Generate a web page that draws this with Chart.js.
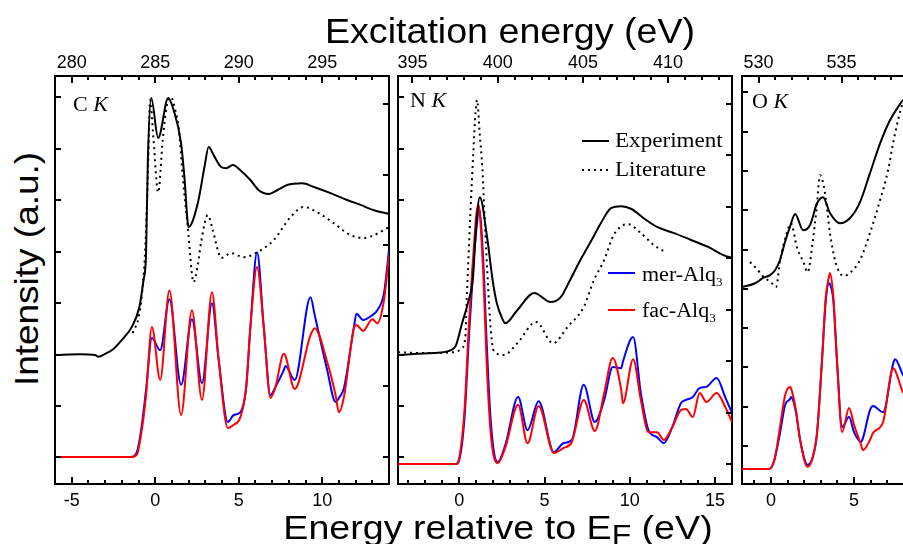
<!DOCTYPE html>
<html>
<head>
<meta charset="utf-8">
<script src="https://cdn.jsdelivr.net/npm/chart.js@4.4.1/dist/chart.umd.min.js"></script>
<style>
  html, body { margin: 0; padding: 0; width: 903px; height: 544px; overflow: hidden; background: #fff; }
  .panel { position: absolute; }
  .txt { position: absolute; white-space: nowrap; color: #000; line-height: 1;
         font-family: "Liberation Sans", Arial, sans-serif; }
  .serif { font-family: "Liberation Serif", "Times New Roman", serif; transform-origin: left center; transform: scaleX(1.1); }
  .serif sub { font-size: 12px; vertical-align: -5px; line-height: 0; }
  .sub { font-size: 28px; vertical-align: -5px; }
</style>
</head>
<body>

<canvas id="c1" class="panel"></canvas>
<canvas id="c2" class="panel"></canvas>
<canvas id="c3" class="panel"></canvas>

<div class="txt" style="left:510px; top:13px; font-size:35px; transform:translateX(-50%) scaleX(1.075);">Excitation energy (eV)</div>
<div class="txt" style="left:498px; top:511px; font-size:33px; transform:translateX(-50%) scaleX(1.14);">Energy relative to E<span class="sub">F</span> (eV)</div>
<div class="txt" style="left:26px; top:269px; font-size:33px; transform:translate(-50%, -50%) rotate(-90deg) scaleX(1.12);">Intensity (a.u.)</div>

<div class="txt serif" style="left:73px; top:94px; font-size:20px;">C <i>K</i></div>
<div class="txt serif" style="left:410px; top:90px; font-size:20px;">N <i>K</i></div>
<div class="txt serif" style="left:752px; top:91px; font-size:20px;">O <i>K</i></div>

<svg style="position:absolute; left:0; top:0;" width="903" height="544">
  <line x1="582" y1="141" x2="609" y2="141" stroke="#000" stroke-width="2"/>
  <line x1="582" y1="170" x2="609" y2="170" stroke="#000" stroke-width="2" stroke-dasharray="2 4"/>
  <line x1="608" y1="273" x2="635" y2="273" stroke="#0000ff" stroke-width="2"/>
  <line x1="608" y1="310" x2="635" y2="310" stroke="#ff0000" stroke-width="2"/>
</svg>
<div class="txt serif" style="left:615px; top:130px; font-size:21px;">Experiment</div>
<div class="txt serif" style="left:615px; top:159px; font-size:21px;">Literature</div>
<div class="txt serif" style="left:642px; top:264px; font-size:20px;">mer-Alq<sub>3</sub></div>
<div class="txt serif" style="left:642px; top:300px; font-size:20px;">fac-Alq<sub>3</sub></div>

<script>
// C K edge: energies (eV, relative to E_F) and intensities (a.u.)
const cExpE = [-6, -4.5, -3.6, -3.4, -3.0, -2.5, -2.0, -1.4, -0.95, -0.7, -0.55, -0.44, -0.24, 0.18, 0.78, 1.1, 1.55, 1.75, 2.0, 2.55, 2.95, 3.2, 3.5, 3.95, 4.25, 4.65, 5.1, 5.7, 6.2, 6.8, 7.3, 7.9, 8.8, 9.5, 10.5, 11.5, 12.3, 13.1, 14.0];
const cExp  = [31.6, 31.8, 31.6, 31.2, 31.9, 33.1, 35.3, 38.5, 43.4, 50.0, 56.1, 79.4, 94.6, 84.8, 94.6, 91.7, 83.5, 75.2, 63.0, 68.8, 77.7, 82.6, 80.6, 77.7, 77.4, 78.2, 76.9, 74.5, 72.0, 71.1, 72.0, 73.3, 73.7, 72.8, 71.3, 69.6, 68.4, 67.1, 66.2];
const cLitE = [-1.35, -1.0, -0.8, -0.6, -0.45, -0.3, -0.1, 0.18, 0.45, 0.7, 0.95, 1.2, 1.4, 1.65, 1.95, 2.3, 2.55, 2.75, 3.15, 3.45, 3.8, 3.95, 4.55, 5.3, 6.1, 7.1, 8.1, 8.9, 9.7, 10.7, 11.7, 12.5, 13.1, 14.0];
const cLit  = [37.0, 40.7, 46.3, 57.3, 74.5, 94.1, 84.3, 71.5, 84.3, 92.9, 94.8, 91.7, 87.5, 75.2, 63.0, 49.5, 53.7, 59.3, 65.9, 62.2, 56.6, 55.4, 56.6, 55.6, 56.8, 59.8, 65.4, 67.9, 66.6, 63.9, 61.0, 60.3, 61.0, 63.0];
const cCalcE = [-6, -1.45, -1.1, -0.85, -0.55, -0.2, 0.3, 0.85, 1.55, 2.2, 2.8, 3.4, 3.8, 4.35, 4.7, 5.1, 5.45, 5.7, 6.1, 6.5, 6.9, 7.2, 7.7, 7.8, 8.35, 9.3, 9.55, 10.3, 10.8, 11.0, 11.3, 11.9, 12.05, 12.45, 13.0, 13.3, 13.7, 14.0];
const cMer = [6.6, 6.6, 7.8, 13.0, 23.0, 35.8, 32.8, 45.3, 24.3, 40.4, 24.7, 44.3, 30.4, 15.2, 16.9, 17.6, 23.8, 38.5, 56.8, 38.5, 21.8, 23.8, 27.9, 28.9, 25.5, 45.8, 41.4, 27.9, 20.1, 21.1, 23.5, 38.5, 41.7, 40.2, 41.4, 42.6, 46.8, 57.3];
const cFac = [6.6, 6.6, 7.2, 12.0, 21.6, 38.5, 25.5, 47.5, 16.9, 42.6, 20.6, 47.0, 30.4, 13.7, 14.5, 16.4, 23.8, 38.5, 53.2, 38.5, 21.1, 23.8, 31.9, 31.4, 23.3, 36.5, 38.2, 29.9, 21.8, 17.6, 21.3, 38.2, 39.0, 37.5, 40.4, 39.4, 45.1, 56.1];

// N K edge
const nExpE = [-3.6, -2.5, -1.5, -0.5, -0.2, 0.16, 0.5, 0.8, 0.95, 1.2, 1.65, 1.95, 2.2, 2.5, 2.7, 3.4, 4.4, 5.35, 5.95, 6.5, 7.1, 7.7, 8.3, 8.9, 9.5, 10.1, 10.8, 11.6, 12.6, 13.6, 14.6, 15.5, 16.0];
const nExp  = [31.6, 31.9, 32.1, 32.8, 34.0, 39.4, 44.3, 50.7, 61.0, 70.3, 59.8, 50.0, 44.3, 40.7, 39.4, 42.6, 46.8, 44.6, 45.8, 50.0, 54.9, 59.3, 63.9, 67.6, 68.1, 67.4, 65.2, 63.0, 61.5, 59.8, 58.1, 56.1, 55.4];
const nLitE = [-3.6, -2.0, -0.3, 0.15, 0.35, 0.45, 0.55, 0.65, 0.82, 0.95, 1.04, 1.2, 1.35, 1.53, 1.63, 1.8, 2.0, 2.6, 3.4, 4.5, 5.5, 6.35, 7.3, 7.9, 8.5, 9.05, 9.9, 10.65, 11.4, 12.1];
const nLit  = [32.3, 32.1, 32.3, 33.3, 36.0, 47.0, 56.8, 66.6, 81.3, 91.1, 94.1, 85.5, 77.4, 61.0, 52.9, 40.2, 32.8, 31.6, 34.5, 39.7, 34.5, 38.5, 43.4, 50.0, 54.9, 61.0, 63.7, 61.5, 58.6, 56.8];
const nCalcE = [-3.6, -0.2, 0.0, 0.3, 0.55, 0.8, 1.1, 1.15, 1.4, 1.6, 1.85, 2.25, 2.7, 3.45, 4.0, 4.65, 5.55, 6.1, 6.6, 7.3, 7.95, 8.5, 9.0, 9.5, 9.6, 10.2, 10.65, 11.1, 11.6, 12.0, 12.5, 13.0, 13.3, 13.7, 14.1, 14.5, 15.1, 15.6, 16.0];
const nMer = [4.9, 4.9, 6.0, 16.0, 35.0, 52.0, 66.5, 67.6, 55.0, 35.0, 15.0, 5.4, 9.6, 21.3, 13.2, 20.3, 7.8, 10.0, 10.8, 24.3, 15.2, 20.6, 28.7, 28.4, 30.0, 36.0, 22.3, 13.2, 11.5, 10.0, 14.0, 19.8, 20.6, 21.3, 23.5, 23.8, 26.0, 21.3, 17.4];
const nFac = [4.9, 4.9, 6.5, 18.0, 38.0, 55.0, 68.4, 68.0, 52.0, 30.0, 12.0, 5.1, 9.0, 19.4, 10.0, 19.1, 7.6, 8.8, 10.3, 20.6, 13.0, 22.3, 30.9, 23.0, 19.8, 30.6, 20.6, 12.7, 12.7, 10.8, 14.0, 18.1, 18.4, 16.4, 22.3, 20.1, 22.3, 18.9, 15.2];

// O K edge
const oExpE = [-1.75, -0.96, -0.48, -0.06, 0.24, 0.54, 0.84, 1.14, 1.45, 1.93, 2.35, 2.77, 3.13, 3.55, 4.15, 4.76, 5.36, 5.96, 6.57, 7.17, 7.65, 7.95, 8.5];
const oExp  = [48.3, 49.2, 50.5, 51.2, 52.4, 54.9, 59.3, 63.0, 66.2, 62.2, 63.5, 68.8, 70.3, 66.4, 63.9, 65.2, 69.1, 76.2, 83.5, 89.2, 92.4, 94.1, 95.8];
const oLitE = [-1.27, -0.9, -0.5, 0.1, 0.3, 0.55, 0.95, 1.2, 1.55, 1.95, 2.2, 2.5, 2.75, 2.95, 3.25, 3.55, 3.85, 4.15, 4.4, 4.8, 5.36, 5.96, 6.57, 7.05, 7.35, 7.65, 7.95, 8.3];
const oLit  = [54.4, 52.9, 51.0, 49.0, 48.3, 54.9, 61.5, 63.9, 58.1, 54.4, 51.9, 59.0, 67.9, 75.7, 71.3, 61.5, 54.9, 51.7, 51.0, 51.9, 54.9, 61.5, 69.6, 76.9, 83.5, 89.2, 93.6, 96.5];
const oCalcE = [-1.75, -0.1, 0.2, 0.54, 0.85, 1.14, 1.2, 1.5, 1.75, 2.2, 2.5, 2.77, 3.07, 3.3, 3.5, 3.55, 3.75, 3.97, 4.28, 4.7, 5.0, 5.42, 5.54, 5.96, 6.14, 6.75, 7.35, 7.47, 7.95, 8.4];
const oMer = [3.7, 3.7, 5.9, 12.5, 19.4, 20.8, 21.3, 17.6, 10.8, 4.7, 6.4, 12.5, 30.4, 45.1, 49.2, 49.0, 45.1, 30.4, 14.0, 16.4, 12.7, 10.3, 11.3, 18.1, 19.1, 17.6, 29.4, 30.6, 26.7, 24.3];
const oFac = [3.7, 3.7, 5.9, 14.0, 21.8, 23.8, 23.5, 18.1, 10.8, 4.2, 6.4, 12.5, 30.4, 46.0, 51.0, 51.7, 46.0, 30.4, 12.7, 18.6, 14.5, 9.6, 8.3, 10.8, 12.5, 15.2, 28.4, 27.9, 22.5, 20.6];

// labelled ticks: bottom = relative energy, top = excitation energy
const cBottomLabels = [-5, 0, 5, 10];
const cTopLabels = [280, 285, 290, 295];
const nBottomLabels = [0, 5, 10, 15];
const nTopLabels = [395, 400, 405, 410];
const oBottomLabels = [0, 5, 10, 15];
const oTopLabels = [530, 535, 540, 545];

const BLUE = '#0000ff';
const RED = '#ff0000';

const pts = (xs, ys) => xs.map((x, i) => ({ x, y: ys[i] }));

// short inward tick marks on all four sides of each frame
const innerTicks = {
  id: 'innerTicks',
  afterDraw(chart) {
    const { ctx, chartArea: a, scales } = chart;
    ctx.save();
    ctx.strokeStyle = '#000';
    ctx.lineWidth = 2;
    ctx.beginPath();
    ['x', 'xt'].forEach(id => {
      const s = scales[id];
      const edge = id === 'x' ? a.bottom : a.top;
      const dir = id === 'x' ? -1 : 1;
      s.ticks.forEach(t => {
        const v = Math.round(t.value * 100) / 100;
        if (!Number.isInteger(v)) return;
        const px = Math.round(s.getPixelForValue(t.value));
        const len = v % 5 === 0 ? 7 : 4;
        ctx.moveTo(px, edge);
        ctx.lineTo(px, edge + dir * len);
      });
    });
    ['yl', 'yr'].forEach(id => {
      const s = scales[id];
      const edge = id === 'yl' ? a.left : a.right;
      const dir = id === 'yl' ? 1 : -1;
      s.ticks.forEach(t => {
        const v = Math.round(t.value * 100) / 100;
        if (!Number.isInteger(v)) return;
        const py = Math.round(s.getPixelForValue(t.value));
        ctx.moveTo(edge, py);
        ctx.lineTo(edge + dir * 6, py);
      });
    });
    ctx.stroke();
    ctx.restore();
  }
};

function makePanel(cfg) {
  const { canvasId, box, xMin, xMax, shift, yl, yr, bottomLabels, topLabels, series } = cfg;
  const cv = document.getElementById(canvasId);
  cv.width = box.r - box.l + 8;
  cv.height = box.b - box.t + 60;
  cv.style.left = (box.l - 4) + 'px';
  cv.style.top = (box.t - 30) + 'px';

  const font = { family: '"Liberation Sans", Arial, sans-serif', size: 18 };
  const border = { display: true, color: '#000', width: 2 };
  const fixH = s => { s.height = 30; };
  const fixW = s => { s.width = 0; };

  new Chart(cv, {
    type: 'line',
    data: {
      datasets: [
        { label: 'Experiment', data: pts(series.expE, series.exp), borderColor: '#000' },
        { label: 'Literature', data: pts(series.litE, series.lit), borderColor: '#000', borderDash: [2, 4] },
        { label: 'fac-Alq3', data: pts(series.calcE, series.fac), borderColor: RED },
        { label: 'mer-Alq3', data: pts(series.calcE, series.mer), borderColor: BLUE }
      ]
    },
    options: {
      responsive: false,
      animation: false,
      events: [],
      layout: { padding: { left: 4, right: 4, top: 0, bottom: 0 } },
      elements: {
        point: { radius: 0 },
        line: { borderWidth: 2, cubicInterpolationMode: 'monotone', fill: false }
      },
      plugins: { legend: { display: false }, tooltip: { enabled: false } },
      scales: {
        x: {
          type: 'linear', position: 'bottom', min: xMin, max: xMax,
          grid: { display: false }, border,
          ticks: {
            stepSize: 1, autoSkip: false, maxRotation: 0, includeBounds: false,
            padding: -2, color: '#000', font,
            callback: v => bottomLabels.includes(v) ? String(v) : ''
          },
          afterFit: fixH
        },
        xt: {
          type: 'linear', position: 'top', min: xMin + shift, max: xMax + shift,
          grid: { display: false }, border,
          ticks: {
            stepSize: 1, autoSkip: false, maxRotation: 0, includeBounds: false,
            padding: -6, color: '#000', font,
            callback: v => topLabels.includes(v) ? String(v) : ''
          },
          afterFit: fixH
        },
        y: { type: 'linear', min: 0, max: 100, display: false },
        yl: {
          type: 'linear', position: 'left', min: yl[0], max: yl[1],
          grid: { display: false }, border,
          ticks: { display: false, stepSize: 1, autoSkip: false, includeBounds: false },
          afterFit: fixW
        },
        yr: {
          type: 'linear', position: 'right', min: yr[0], max: yr[1],
          grid: { display: false }, border,
          ticks: { display: false, stepSize: 1, autoSkip: false, includeBounds: false },
          afterFit: fixW
        }
      }
    },
    plugins: [innerTicks]
  });
}

makePanel({
  canvasId: 'c1', box: { l: 55, t: 76, r: 389, b: 484 },
  xMin: -6, xMax: 14, shift: 285,
  yl: [-0.519, 7.418], yr: [-0.382, 5.397],
  bottomLabels: cBottomLabels, topLabels: cTopLabels,
  series: { expE: cExpE, exp: cExp, litE: cLitE, lit: cLit, calcE: cCalcE, mer: cMer, fac: cFac }
});

makePanel({
  canvasId: 'c2', box: { l: 398, t: 76, r: 732, b: 484 },
  xMin: -3.6, xMax: 16, shift: 397.75,
  yl: [-0.519, 7.418], yr: [-0.388, 7.534],
  bottomLabels: nBottomLabels, topLabels: nTopLabels,
  series: { expE: nExpE, exp: nExp, litE: nLitE, lit: nLit, calcE: nCalcE, mer: nMer, fac: nFac }
});

makePanel({
  canvasId: 'c3', box: { l: 742, t: 76, r: 1076, b: 484 },
  xMin: -1.75, xMax: 18.37, shift: 530.75,
  yl: [-0.967, 9.415], yr: [-0.967, 9.415],
  bottomLabels: oBottomLabels, topLabels: oTopLabels,
  series: { expE: oExpE, exp: oExp, litE: oLitE, lit: oLit, calcE: oCalcE, mer: oMer, fac: oFac }
});
</script>
</body>
</html>
